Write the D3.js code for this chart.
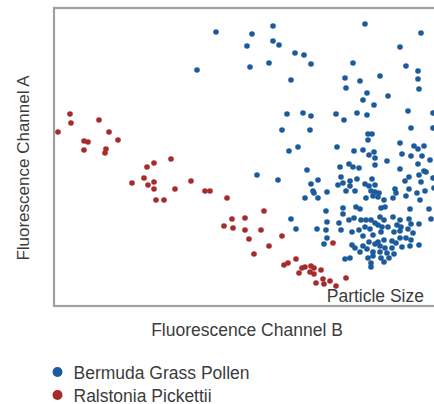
<!DOCTYPE html>
<html lang="en">
<head>
<meta charset="utf-8">
<title>Fluorescence scatter</title>
<style>
  body { margin: 0; background: #fff; }
  svg { display: block; }
  text { font-family: "Liberation Sans", Arial, sans-serif; fill: #3c3c3c; }
</style>
<script src="https://d3js.org/d3.v7.min.js"></script>
</head>
<body>
<script>
    let width = 434
    let height = 404

    // plot box (the right edge runs past the picture)
    let plotLeft = 54, plotRight = 440, plotTop = 8, plotBottom = 306

    let seriesNames = ["Bermuda Grass Pollen", "Ralstonia Pickettii"]
    let seriesColors = ["#1b5b9c", "#a82a2a"]

    // Ralstonia Pickettii: [channel B, channel A]
    let redX = [4,16,17,45,55,64,30,34,30,52,51,117,93,100,78,90,100,94,100,121,137,102,110,151,156,173,178,170,179,
        191,210,191,207,195,228,215,200,279,230,234,242,248,251,257,260,245,256,260,267,269,276,262,270,282,292]
    let redY = [174,192,183,186,174,166,165,164,156,157,153,147,139,143,123,128,124,121,117,117,125,106,106,115,115,108,87,80,78,
        88,95,76,76,67,70,60,52,63,41,43,47,38,39,40,38,33,34,32,36,27,25,23,22,20,28]

    // Bermuda Grass Pollen
    let blueX = [162,198,219,193,219,225,241,250,257,143,196,215,237,233,249,257,228,256,311,367,346,299,352,364,291,306,326,364,
        292,313,365,309,334,320,354,282,290,303,313,357,379,379,
        235,244,203,224,253,257,264,259,260,251,264,237,242,263,
        314,318,314,283,300,309,315,320,321,286,295,299,305,321,287,296,303,318,284,289,296,311,315,321,273,292,301,317,321,
        346,360,364,370,333,348,357,368,376,364,346,370,372,365,355,351,367,379,341,342,355,363,371,325,380,
        289,302,306,312,319,272,289,273,285,295,300,307,312,317,321,272,287,298,305,311,316,273,309,319,270,298,301,309,315,321,
        306,313,319,291,296,314,317,317,319,
        324,330,339,352,366,327,331,356,375,377,326,330,339,346,355,324,328,334,343,347,357,365,327,340,346,354,359,346,352,
        330,338,324,342,357,365,326,331,338,348,356,326,333,340,327,335,330]
    let blueY = [274,272,280,260,265,261,253,251,242,236,239,243,226,192,193,190,176,176,282,273,259,243,240,235,228,225,230,227,
        218,213,217,206,210,201,195,192,186,193,191,178,178,193,
        155,159,131,126,136,122,126,115,113,108,108,87,77,77,
        172,172,166,159,155,156,151,154,148,139,142,139,138,141,129,125,127,127,121,123,120,122,120,121,114,115,115,115,114,
        163,160,157,160,145,152,150,150,146,142,137,135,134,131,129,125,124,128,117,113,117,113,115,113,118,
        98,99,97,108,110,95,92,84,83,86,88,86,86,86,83,76,76,74,76,79,77,68,70,71,62,61,58,60,64,62,
        54,57,54,47,48,48,43,39,50,
        109,106,108,110,106,98,99,97,97,87,89,86,89,86,87,81,79,79,81,79,82,82,74,74,75,77,73,68,68,
        66,65,64,63,66,61,60,58,58,59,60,54,53,52,48,48,44]

    let svg = d3.select("body").append("svg")
        .attr("width", width)
        .attr("height", height)

    let xScale = d3.scaleLinear().domain([0, plotRight - plotLeft]).range([plotLeft, plotRight])
    let yScale = d3.scaleLinear().domain([0, plotBottom - plotTop]).range([plotBottom, plotTop])

    svg.append("rect")
        .attr("x", plotLeft)
        .attr("y", plotTop)
        .attr("width", plotRight - plotLeft)
        .attr("height", plotBottom - plotTop)
        .attr("fill", "none")
        .attr("stroke", "#a0a0a0")
        .attr("stroke-width", 2.2)

    let drawSeries = (xs, ys, color) => {
        svg.append("g").selectAll("circle")
            .data(d3.zip(xs, ys))
            .enter()
            .append("circle")
            .attr("cx", (d) => xScale(d[0]))
            .attr("cy", (d) => yScale(d[1]))
            .attr("r", 2.8)
            .attr("fill", color)
    }
    drawSeries(blueX, blueY, seriesColors[0])
    drawSeries(redX, redY, seriesColors[1])

    svg.append("text")
        .attr("x", 424)
        .attr("y", 302)
        .attr("text-anchor", "end")
        .attr("font-size", 17.5)
        .text("Particle Size")

    svg.append("text")
        .attr("x", 247)
        .attr("y", 336)
        .attr("text-anchor", "middle")
        .attr("font-size", 17.5)
        .text("Fluorescence Channel B")

    svg.append("text")
        .attr("transform", "translate(29,168) rotate(-90)")
        .attr("text-anchor", "middle")
        .attr("font-size", 17)
        .text("Fluorescence Channel A")

    let legend = svg.append("g").attr("transform", "translate(57.5,372)")
    seriesNames.forEach((name, i) => {
        legend.append("circle")
            .attr("cx", 0)
            .attr("cy", i * 23)
            .attr("r", 5)
            .attr("fill", seriesColors[i])
        legend.append("text")
            .attr("x", 16)
            .attr("y", i * 23 + 6.5)
            .attr("font-size", 17.5)
            .text(name)
    })
</script>
</body>
</html>
